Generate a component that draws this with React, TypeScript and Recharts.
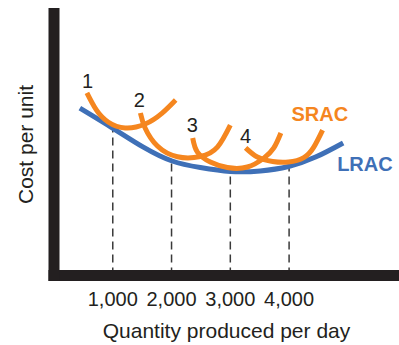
import { LineChart, Line, XAxis, YAxis, ReferenceLine, ReferenceDot } from 'recharts';

const plantSizes = [1000, 2000, 3000, 4000];
const plantCost = [56.1, 43.7, 39.7, 41.6];

const lrac = [
  { q: 440, cost: 63.9 },
  { q: 1010, cost: 56.1 },
  { q: 1520, cost: 49.0 },
  { q: 2010, cost: 43.7 },
  { q: 2490, cost: 41.2 },
  { q: 3000, cost: 39.7 },
  { q: 3510, cost: 39.9 },
  { q: 3990, cost: 41.6 },
  { q: 4450, cost: 45.2 },
  { q: 4920, cost: 50.6 },
];

const srac1 = [
  { q: 560, cost: 69.7 },
  { q: 720, cost: 63.2 },
  { q: 920, cost: 58.6 },
  { q: 1210, cost: 56.3 },
  { q: 1550, cost: 57.8 },
  { q: 1840, cost: 62.0 },
  { q: 2070, cost: 67.0 },
];

const srac2 = [
  { q: 1470, cost: 62.0 },
  { q: 1550, cost: 56.3 },
  { q: 1760, cost: 49.4 },
  { q: 2100, cost: 45.3 },
  { q: 2490, cost: 45.4 },
  { q: 2780, cost: 49.0 },
  { q: 3000, cost: 57.4 },
];

const srac3 = [
  { q: 2360, cost: 52.5 },
  { q: 2440, cost: 47.1 },
  { q: 2660, cost: 43.3 },
  { q: 2950, cost: 41.2 },
  { q: 3290, cost: 41.4 },
  { q: 3570, cost: 44.8 },
  { q: 3740, cost: 48.7 },
  { q: 3860, cost: 54.4 },
];

const srac4 = [
  { q: 3260, cost: 48.7 },
  { q: 3460, cost: 45.2 },
  { q: 3720, cost: 43.5 },
  { q: 3990, cost: 43.3 },
  { q: 4250, cost: 45.0 },
  { q: 4420, cost: 49.0 },
  { q: 4570, cost: 55.5 },
];

const sracCurves = [srac1, srac2, srac3, srac4];
const sracNames = ['1', '2', '3', '4'];

// where the little numbers and curve names sit (data units)
const nameSpots = [
  { q: 572, cost: 74.4 },
  { q: 1450, cost: 67.2 },
  { q: 2355, cost: 57.6 },
  { q: 3259, cost: 53.4 },
];
const sracSpot = { q: 4522, cost: 61.5 };
const lracSpot = { q: 5290, cost: 42.7 };

const ORANGE = '#F5861F';
const BLUE = '#3F70B7';
const INK = '#231F20';

export default function App() {
  return (
    <div
      style={{
        position: 'absolute',
        left: 0,
        top: 0,
        width: 399,
        height: 345,
        background: '#fff',
        fontFamily: '"Liberation Sans", Arial, sans-serif',
      }}
    >
      <LineChart width={399} height={345} margin={{ top: 13.5, right: 0, bottom: 4.5, left: 0 }}>
        <XAxis
          type="number"
          dataKey="q"
          domain={[0, 5870]}
          allowDataOverflow
          ticks={plantSizes}
          tickFormatter={(v: number) => v.toLocaleString('en-US')}
          tickLine={false}
          tickSize={0}
          tickMargin={16}
          tick={{ fontSize: 20, fill: INK }}
          axisLine={{ stroke: INK, strokeWidth: 11, strokeLinecap: 'square' }}
          height={65}
          label={{
            value: 'Quantity produced per day',
            position: 'insideBottom',
            offset: 2.5,
            fontSize: 21,
            fill: INK,
          }}
        />
        <YAxis
          type="number"
          domain={[0, 100]}
          allowDataOverflow
          tick={false}
          tickLine={false}
          width={54}
          axisLine={{ stroke: INK, strokeWidth: 11, strokeLinecap: 'square' }}
          label={{
            value: 'Cost per unit',
            angle: -90,
            position: 'insideLeft',
            offset: 26,
            fontSize: 21,
            fill: INK,
            style: { textAnchor: 'middle' },
          }}
        />
        {plantSizes.map((q, i) => (
          <ReferenceLine
            key={`plant-${q}`}
            segment={[
              { x: q, y: 0 },
              { x: q, y: plantCost[i] },
            ]}
            stroke="#3a3a3a"
            strokeWidth={1.5}
            strokeDasharray="8 5"
          />
        ))}
        <Line
          data={lrac}
          dataKey="cost"
          type="natural"
          stroke={BLUE}
          strokeWidth={5}
          dot={false}
          activeDot={false}
          isAnimationActive={false}
        />
        {sracCurves.map((curve, i) => (
          <Line
            key={`srac-${i}`}
            data={curve}
            dataKey="cost"
            type="natural"
            stroke={ORANGE}
            strokeWidth={5}
            dot={false}
            activeDot={false}
            isAnimationActive={false}
          />
        ))}
        {nameSpots.map((s, i) => (
          <ReferenceDot
            key={`name-${i}`}
            x={s.q}
            y={s.cost}
            r={1}
            fill="none"
            stroke="none"
            label={{ value: sracNames[i], position: 'center', fontSize: 20, fill: INK }}
          />
        ))}
        <ReferenceDot
          x={sracSpot.q}
          y={sracSpot.cost}
          r={1}
          fill="none"
          stroke="none"
          label={{ value: 'SRAC', position: 'center', fontSize: 20, fontWeight: 'bold', fill: ORANGE }}
        />
        <ReferenceDot
          x={lracSpot.q}
          y={lracSpot.cost}
          r={1}
          fill="none"
          stroke="none"
          label={{ value: 'LRAC', position: 'center', fontSize: 20, fontWeight: 'bold', fill: BLUE }}
        />
      </LineChart>
    </div>
  );
}
